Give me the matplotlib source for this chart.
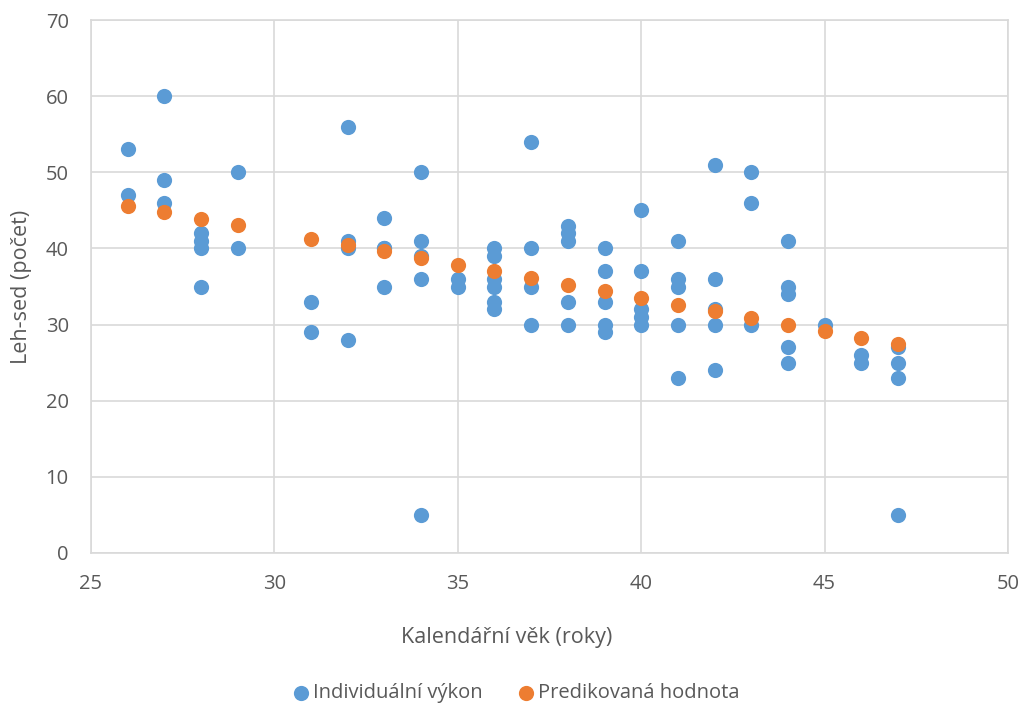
import matplotlib.pyplot as plt

plt.rcParams['font.family'] = ['Open Sans', 'DejaVu Sans']

# individual performance (age, count)
age = [26, 26,
       27, 27, 27,
       28, 28, 28, 28,
       29, 29,
       31, 31,
       32, 32, 32, 32,
       33, 33, 33, 33,
       34, 34, 34, 34, 34,
       35, 35,
       36, 36, 36, 36, 36, 36,
       37, 37, 37, 37,
       38, 38, 38, 38, 38,
       39, 39, 39, 39, 39,
       40, 40, 40, 40, 40,
       41, 41, 41, 41, 41,
       42, 42, 42, 42, 42,
       43, 43, 43,
       44, 44, 44, 44, 44,
       45,
       46, 46,
       47, 47, 47, 47]
situps = [53, 47,
          60, 49, 46,
          42, 41, 40, 35,
          50, 40,
          33, 29,
          56, 41, 40, 28,
          44, 40, 40, 35,
          50, 41, 39, 36, 5,
          36, 35,
          40, 39, 36, 35, 33, 32,
          54, 40, 35, 30,
          43, 42, 41, 33, 30,
          40, 37, 33, 30, 29,
          45, 37, 32, 31, 30,
          41, 36, 35, 30, 23,
          51, 36, 32, 30, 24,
          50, 46, 30,
          41, 35, 34, 27, 25,
          30,
          26, 25,
          27, 25, 23, 5]

# predicted values
pred_age = [26, 27, 28, 29, 31, 32, 33, 34, 35, 36, 37, 38, 39, 40, 41, 42, 43, 44, 45, 46, 47]
pred_val = [45.6, 44.8, 43.9, 43.1, 41.3, 40.5, 39.6, 38.7, 37.8, 37.0, 36.1,
            35.2, 34.4, 33.5, 32.6, 31.8, 30.9, 30.0, 29.2, 28.3, 27.4]

fig = plt.figure(figsize=(10.24, 7.06), dpi=100)
ax = fig.add_axes([91/1024, 1 - 553/706, (1008 - 91)/1024, (553 - 20)/706])

ax.scatter(age, situps, s=120, color='#5B9BD5', label='Individuální výkon', zorder=3, linewidths=0)
ax.scatter(pred_age, pred_val, s=120, color='#ED7D31', label='Predikovaná hodnota', zorder=4, linewidths=0)

ax.set_xlim(25, 50)
ax.set_ylim(0, 70)
ax.set_xticks(range(25, 51, 5))
ax.set_yticks(range(0, 71, 10))
ax.grid(True, color='#D9D9D9', linewidth=1.2, zorder=0)
for s in ax.spines.values():
    s.set_color('#D9D9D9')
    s.set_linewidth(1.2)
ax.tick_params(length=0, labelsize=14.5, labelcolor='#595959')
ax.tick_params(axis='y', pad=16)
ax.tick_params(axis='x', pad=15)

ax.set_xlabel('Kalendářní věk (roky)', fontsize=15.5, color='#595959', va='center')
ax.xaxis.set_label_coords((507 - 91) / 917, (553 - 637) / 533)
ax.set_ylabel('Leh-sed (počet)', fontsize=15.5, color='#595959', va='center')
ax.yaxis.set_label_coords((22 - 91) / 917, 0.5)

leg = fig.legend(loc='center', bbox_to_anchor=(0.505, 1 - 693/706), ncol=2, frameon=False,
                 fontsize=14.5, handlelength=0.7, handletextpad=0.25, columnspacing=1.8,
                 markerscale=1.0)
for t in leg.get_texts():
    t.set_color('#595959')

fig.savefig('out.png', dpi=100)
